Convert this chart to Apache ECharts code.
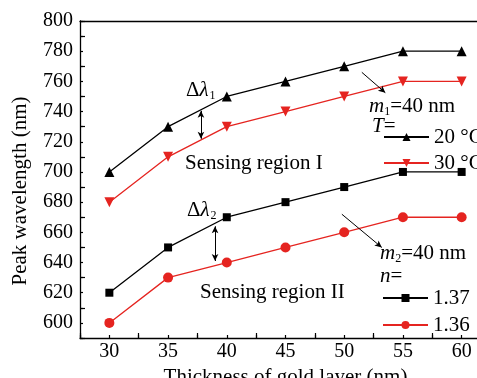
<!DOCTYPE html>
<html>
<head>
<meta charset="utf-8">
<script src="https://cdn.jsdelivr.net/npm/echarts@6/dist/echarts.min.js"></script>
<style>
html,body{margin:0;padding:0;background:#fff;overflow:hidden;width:477px;height:378px;}
#chart{width:491px;height:378px;}
</style>
</head>
<body>
<div id="chart"></div>
<script>
// Data
var thickness = [30, 35, 40, 45, 50, 55, 60];
var peakT20 = [700, 730, 750, 760, 770, 780, 780];   // T = 20 °C (region I)
var peakT30 = [680, 710, 730, 740, 750, 760, 760];   // T = 30 °C (region I)
var peakN137 = [620, 650, 670, 680, 690, 700, 700];  // n = 1.37 (region II)
var peakN136 = [600, 630, 640, 650, 660, 670, 670];  // n = 1.36 (region II)
var seriesNames = ['20 °C', '30 °C', '1.37', '1.36'];

function pairs(xs, ys) { return xs.map(function (x, i) { return [x, ys[i]]; }); }

var FONT = '"Liberation Serif", "Times New Roman", serif';
var RED = '#e52420';
var BLACK = '#000';

var chart = echarts.init(document.getElementById('chart'), null, {renderer: 'canvas'});

function isMult(v, m) { return Math.abs(v - Math.round(v / m) * m) < 1e-6; }

var option = {
  animation: false,
  backgroundColor: '#fff',
  grid: {left: 80, top: 21, right: 0, bottom: 40, outerBoundsMode: 'none', containLabel: false},
  xAxis: [
    {
      type: 'value', min: 27.5, max: 62.5, interval: 2.5, position: 'bottom',
      axisLine: {show: true, lineStyle: {color: BLACK, width: 1.3}},
      axisTick: {show: true, inside: true, length: 3, lineStyle: {color: BLACK, width: 1.2}},
      axisLabel: {show: true, margin: 4, color: BLACK, fontFamily: FONT, fontSize: 20,
        formatter: function (v) { return isMult(v, 5) ? String(Math.round(v)) : ''; }},
      splitLine: {show: false},
      name: 'Thickness of gold layer (nm)', nameLocation: 'middle', nameGap: 22,
      nameTextStyle: {color: BLACK, fontFamily: FONT, fontSize: 21}
    },
    {
      type: 'value', min: 27.5, max: 62.5, interval: 5, position: 'bottom',
      axisLine: {show: false},
      axisTick: {show: true, inside: true, length: 5, lineStyle: {color: BLACK, width: 1.2}},
      axisLabel: {show: false}, splitLine: {show: false}
    },
    {
      type: 'value', min: 27.5, max: 62.5, position: 'top',
      axisLine: {show: true, lineStyle: {color: BLACK, width: 1.3}},
      axisTick: {show: false}, axisLabel: {show: false}, splitLine: {show: false}
    }
  ],
  yAxis: [
    {
      type: 'value', min: 590, max: 800, interval: 10, position: 'left',
      axisLine: {show: true, lineStyle: {color: BLACK, width: 1.3}},
      axisTick: {show: true, inside: true, length: 3, lineStyle: {color: BLACK, width: 1.2}},
      axisLabel: {show: true, margin: 7, color: BLACK, fontFamily: FONT, fontSize: 20,
        formatter: function (v) { return isMult(v, 20) ? String(Math.round(v)) : ''; }},
      splitLine: {show: false}
    },
    {
      type: 'value', min: 590, max: 800, interval: 20, position: 'left',
      axisLine: {show: false},
      axisTick: {show: true, inside: true, length: 5, lineStyle: {color: BLACK, width: 1.2}},
      axisLabel: {show: false}, splitLine: {show: false}
    }
  ],
  legend: [
    {
      data: [seriesNames[0], seriesNames[1]], orient: 'vertical', left: 383, top: 126, padding: 0,
      itemWidth: 45, itemHeight: 10, itemGap: 4,
      textStyle: {color: BLACK, fontFamily: FONT, fontSize: 21, lineHeight: 22}
    },
    {
      data: [seriesNames[2], seriesNames[3]], orient: 'vertical', left: 382, top: 287, padding: 0,
      itemWidth: 45, itemHeight: 10, itemGap: 5,
      textStyle: {color: BLACK, fontFamily: FONT, fontSize: 21, lineHeight: 22}
    }
  ],
  series: [
    {
      name: seriesNames[0], type: 'line', data: pairs(thickness, peakT20),
      symbol: 'triangle', symbolSize: 10,
      lineStyle: {color: BLACK, width: 1.3}, itemStyle: {color: BLACK},
      markLine: {
        silent: true, symbol: ['arrow', 'arrow'], symbolSize: [5, 7],
        label: {show: false},
        lineStyle: {color: BLACK, width: 1, type: 'solid'},
        data: [
          [{coord: [37.8, 740.5]}, {coord: [37.8, 722]}],
          [{coord: [39.0, 664]}, {coord: [39.0, 641]}],
          [{coord: [51.5, 766], symbol: 'none'}, {coord: [53.5, 752.5], symbol: 'arrow'}],
          [{coord: [49.8, 672], symbol: 'none'}, {coord: [53.2, 650], symbol: 'arrow'}]
        ]
      }
    },
    {
      name: seriesNames[1], type: 'line', data: pairs(thickness, peakT30),
      symbol: 'triangle', symbolRotate: 180, symbolSize: 10,
      lineStyle: {color: RED, width: 1.3}, itemStyle: {color: RED}
    },
    {
      name: seriesNames[2], type: 'line', data: pairs(thickness, peakN137),
      symbol: 'rect', symbolSize: 8,
      lineStyle: {color: BLACK, width: 1.3}, itemStyle: {color: BLACK}
    },
    {
      name: seriesNames[3], type: 'line', data: pairs(thickness, peakN136),
      symbol: 'circle', symbolSize: 10,
      lineStyle: {color: RED, width: 1.3}, itemStyle: {color: RED}
    }
  ],
  graphic: [
    {type: 'text', x: 20, y: 191, rotation: Math.PI / 2,
      style: {text: 'Peak wavelength (nm)', fill: BLACK, font: '21px ' + FONT, align: 'center', verticalAlign: 'middle'}},
    {type: 'text', x: 185, y: 163,
      style: {text: 'Sensing region I', fill: BLACK, font: '21px ' + FONT, verticalAlign: 'middle'}},
    {type: 'text', x: 200, y: 292,
      style: {text: 'Sensing region II', fill: BLACK, font: '21px ' + FONT, verticalAlign: 'middle'}},
    {type: 'text', x: 186, y: 90,
      style: {text: '{d|Δ}{l|λ}{s|1}', fill: BLACK, verticalAlign: 'middle',
        rich: {d: {font: '21px ' + FONT}, l: {font: 'italic 21px ' + FONT}, s: {font: '12px ' + FONT, padding: [12, 0, 0, 1]}}}},
    {type: 'text', x: 187, y: 210,
      style: {text: '{d|Δ}{l|λ}{s|2}', fill: BLACK, verticalAlign: 'middle',
        rich: {d: {font: '21px ' + FONT}, l: {font: 'italic 21px ' + FONT}, s: {font: '12px ' + FONT, padding: [12, 0, 0, 1]}}}},
    {type: 'text', x: 369, y: 106,
      style: {text: '{i|m}{s|1}{r|=40 nm}', fill: BLACK, verticalAlign: 'middle',
        rich: {i: {font: 'italic 21px ' + FONT}, s: {font: '12px ' + FONT, padding: [12, 0, 0, 0]}, r: {font: '21px ' + FONT}}}},
    {type: 'text', x: 372, y: 126,
      style: {text: '{i|T}{r|=}', fill: BLACK, verticalAlign: 'middle',
        rich: {i: {font: 'italic 21px ' + FONT}, r: {font: '21px ' + FONT}}}},
    {type: 'text', x: 380, y: 253,
      style: {text: '{i|m}{s|2}{r|=40 nm}', fill: BLACK, verticalAlign: 'middle',
        rich: {i: {font: 'italic 21px ' + FONT}, s: {font: '12px ' + FONT, padding: [12, 0, 0, 0]}, r: {font: '21px ' + FONT}}}},
    {type: 'text', x: 380, y: 276,
      style: {text: '{i|n}{r|=}', fill: BLACK, verticalAlign: 'middle',
        rich: {i: {font: 'italic 21px ' + FONT}, r: {font: '21px ' + FONT}}}}
  ]
};
chart.setOption(option);
</script>
</body>
</html>
